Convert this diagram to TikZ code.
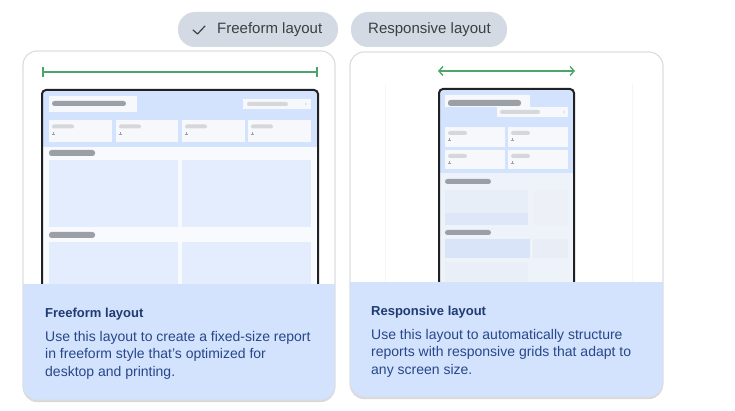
\documentclass[tikz,border=0pt]{standalone}
\usepackage{fontspec}
\setmainfont{Liberation Sans}
\usetikzlibrary{arrows.meta,shadows}
\definecolor{cardborder}{HTML}{DADCE0}
\definecolor{panelblue}{HTML}{D3E3FD}
\definecolor{btnfill}{HTML}{D3DAE3}
\definecolor{btntext}{HTML}{3C4043}
\definecolor{titleblue}{HTML}{1F3B72}
\definecolor{bodyblue}{HTML}{27478A}
\definecolor{greenline}{HTML}{4EA56B}
\definecolor{framec}{HTML}{202124}
\definecolor{barg}{HTML}{9AA0A6}
\definecolor{barl}{HTML}{D5D7DB}
\definecolor{tilew}{HTML}{F6F8FC}
\definecolor{bigbox}{HTML}{E3EDFD}
\definecolor{pagebg}{HTML}{F8FAFD}
\definecolor{rpagebg}{HTML}{EEF2F9}
\definecolor{fadeA}{HTML}{E8EEF8}
\definecolor{fadeB}{HTML}{DDE7F8}
\definecolor{fadeC}{HTML}{EDF1F7}
\definecolor{fadeD}{HTML}{D9E4F9}
\definecolor{fadeE}{HTML}{E8EDF6}
\definecolor{fadeF}{HTML}{EAEFF7}
\definecolor{ghost}{HTML}{F5F6F8}
\tikzset{
  card/.style={fill=white, draw=cardborder, line width=0.8pt, rounded corners=14pt,
    drop shadow={shadow xshift=0pt, shadow yshift=-2pt, opacity=0.28, fill=black!55}},
  btn/.style={fill=btnfill, rounded corners=17pt},
  btnlabel/.style={text=btntext, font=\fontsize{15}{18}\selectfont, inner sep=0pt},
  ctitle/.style={text=titleblue, font=\bfseries\fontsize{13}{16}\selectfont, inner sep=0pt, anchor=base west},
  cbody/.style={text=bodyblue, font=\fontsize{14}{17.5}\selectfont, inner sep=0pt, anchor=north west, align=left},
  frameline/.style={draw=framec, line width=2pt, rounded corners=4pt},
  graybar/.style={fill=barg, rounded corners=2.5pt},
  lightbar/.style={fill=barl, rounded corners=2pt},
  tile/.style={fill=tilew},
  measure/.style={draw=greenline, line width=1.6pt},
}
\begin{document}
\begin{tikzpicture}[x=1pt,y=-1pt]
\useasboundingbox (0,0) rectangle (735,411);
\fill[white] (0,0) rectangle (735,411);

% ---------- toggle buttons ----------
\fill[btn] (178,12) rectangle (338,47);
\fill[btn] (351,12) rectangle (507,47);
\draw[btntext, line width=1.2pt, line cap=round, line join=round] (193,30) -- (197.5,34) -- (205,26);
\node[btnlabel, anchor=west] (bfree) at (217,30) {Freeform layout};
\node[btnlabel, anchor=west] (bresp) at (368,30) {Responsive layout};

% ---------- left card ----------
\path[card] (23,51) rectangle (335,400);
\begin{scope}
  \clip[rounded corners=14pt] (23,51) rectangle (335,400);
  \fill[pagebg] (43,91) rectangle (317,300);
  \fill[panelblue] (43,91) rectangle (317,147);
  \fill[tilew] (49,96) rectangle (137,112);
  \fill[graybar] (52,101) rectangle (126,106);
  \fill[tilew] (243,99) rectangle (311,109);
  \fill[lightbar] (247,102) rectangle (288,106);
  \fill[barg] (306,104) circle (0.7pt);
  \foreach \x/\w in {49/112,116/178,182/245,248/311}{
    \fill[tile] (\x,120) rectangle (\w,142);
    \fill[lightbar] (\x+3,124.5) rectangle (\x+25,128.5);
    \draw[barg, line width=0.5pt] (\x+2.5,134) -- (\x+5.5,134) (\x+4,132.5) -- (\x+4,135.5);
  }
  \fill[graybar] (49,150) rectangle (95,156);
  \fill[bigbox] (49,160) rectangle (178,227);
  \fill[bigbox] (182,160) rectangle (311,227);
  \fill[graybar] (49,232) rectangle (95,238);
  \fill[bigbox] (49,242) rectangle (178,300);
  \fill[bigbox] (182,242) rectangle (311,300);
  \draw[frameline] (42,300) -- (42,90) -- (318,90) -- (318,300);
  \fill[panelblue] (23,284) rectangle (335,400);
\end{scope}
\draw[draw=cardborder, line width=0.8pt, rounded corners=14pt] (23,51) rectangle (335,400);
\coordinate (lfa) at (42,72);
\coordinate (lfb) at (318,72);
\draw[measure, {Bar[width=10pt,line width=1.6pt]}-{Bar[width=10pt,line width=1.6pt]}] (lfa) -- (lfb);
\node[ctitle] (ltitle) at (45,317) {Freeform layout};
\node[cbody] (lbody) at (45,331) {Use this layout to create a fixed-size report\\in freeform style that's optimized for\\desktop and printing.};

% ---------- right card ----------
\path[card] (350,52) rectangle (663,397);
\begin{scope}
  \clip[rounded corners=14pt] (350,52) rectangle (663,397);
  \draw[ghost, line width=0.8pt] (385,84) -- (385,282) (632,84) -- (632,282);
  \fill[rpagebg] (440,90) rectangle (573,300);
  \fill[panelblue] (440,90) rectangle (573,173);
  \fill[tilew] (445,95) rectangle (530,107);
  \fill[graybar] (448,100) rectangle (521,106);
  \fill[tilew] (497,107) rectangle (568,117);
  \fill[lightbar] (500,110) rectangle (540,114);
  \fill[barg] (564,112) circle (0.6pt);
  \foreach \x/\w/\y/\h in {445/505/127/147,508/568/127/147,445/505/150/169,508/568/150/169}{
    \fill[tile] (\x,\y) rectangle (\w,\h);
    \fill[lightbar] (\x+3,\y+4) rectangle (\x+22,\y+8);
    \draw[barg, line width=0.5pt] (\x+2.5,\y+13) -- (\x+5.5,\y+13) (\x+4,\y+11.5) -- (\x+4,\y+14.5);
  }
  \fill[graybar] (445,179) rectangle (491,184);
  \fill[fadeA] (445,190) rectangle (528,213);
  \fill[fadeB] (445,213) rectangle (528,225);
  \fill[fadeC] (533,190) rectangle (568,225);
  \fill[graybar] (445,230) rectangle (491,235);
  \fill[fadeD] (445,239) rectangle (530,258);
  \fill[fadeE] (533,239) rectangle (568,258);
  \fill[fadeF] (445,262) rectangle (528,290);
  \draw[frameline] (439,300) -- (439,89) -- (574,89) -- (574,300);
  \fill[panelblue] (350,282) rectangle (663,397);
\end{scope}
\draw[draw=cardborder, line width=0.8pt, rounded corners=14pt] (350,52) rectangle (663,397);
\coordinate (rfa) at (438,71);
\coordinate (rfb) at (575,71);
\draw[measure, {Straight Barb[length=4pt,width=9pt,line width=1.4pt]}-{Straight Barb[length=4pt,width=9pt,line width=1.4pt]}] (rfa) -- (rfb);
\node[ctitle] (rtitle) at (371,315) {Responsive layout};
\node[cbody] (rbody) at (371,329) {Use this layout to automatically structure\\reports with responsive grids that adapt to\\any screen size.};
\end{tikzpicture}
\end{document}
